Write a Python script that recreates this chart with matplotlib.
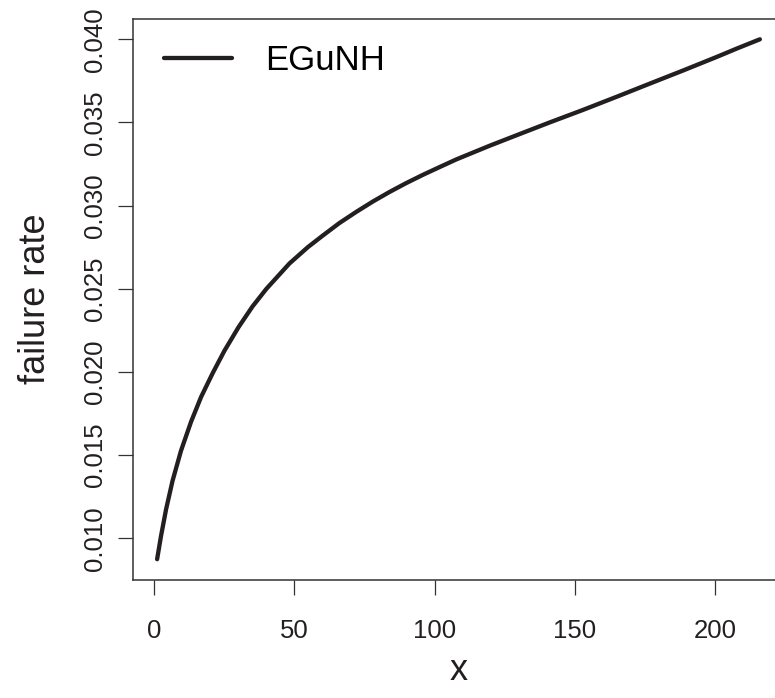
import matplotlib
matplotlib.use('Agg')
import matplotlib.pyplot as plt

# values
x_vals = [1, 2.4, 4.2, 6.5, 9.5, 13.1, 16.7, 20.8, 25.0, 30.0, 35.0, 40.0,
          48.2, 54.75, 60.1, 66.0, 72.0, 78.0, 83.9, 89.8, 95.8, 101.8,
          107.75, 119.6, 129.2, 141.0, 153.0, 165.0, 176.8, 188.7, 200.6,
          208.0, 216]
rate = [0.00874, 0.01014, 0.01174, 0.01345, 0.01525, 0.01700, 0.01850, 0.01992,
        0.02127, 0.02268, 0.02393, 0.02500, 0.02652, 0.02750, 0.02820, 0.02895,
        0.02962, 0.03025, 0.03082, 0.03135, 0.03185, 0.03232, 0.03278, 0.03360,
        0.03423, 0.03500, 0.03576, 0.03655, 0.03734, 0.03813, 0.03894, 0.03946,
        0.0400]
series_name = "EGuNH"
x_ticks = [0, 50, 100, 150, 200]
y_ticks = [0.010, 0.015, 0.020, 0.025, 0.030, 0.035, 0.040]

plt.rcParams['font.family'] = ['Liberation Sans', 'DejaVu Sans']
W, H = 775, 698
fig = plt.figure(figsize=(W / 100, H / 100), dpi=100)

# plot box in pixels (right edge runs off the image, as in the reference)
left, right, top, bottom = 133, 784, 18.5, 580
ax = fig.add_axes([left / W, 1 - bottom / H, (right - left) / W, (bottom - top) / H])

ink = '#231f20'
ax.plot(x_vals, rate, color=ink, lw=3.1, solid_capstyle='round',
        solid_joinstyle='round', label=series_name)

# R-style 4% padding
xr = max(x_vals) - min(x_vals)
yr = max(rate) - min(rate)
ax.set_xlim(min(x_vals) - 0.04 * xr, max(x_vals) + 0.04 * xr)
ax.set_ylim(min(rate) - 0.04 * yr, max(rate) + 0.04 * yr)

ax.set_xticks(x_ticks)
ax.set_yticks(y_ticks)
ax.set_yticklabels([f"{v:.3f}" for v in y_ticks])
ax.tick_params(length=11, width=0.9, color='#333333', labelsize=18.5,
               labelcolor=ink, direction='out')
ax.tick_params(axis='x', pad=17)
ax.tick_params(axis='y', pad=8, labelrotation=90)
for lab in ax.get_yticklabels():
    lab.set_va('center')
for sp in ax.spines.values():
    sp.set_linewidth(1.1)
    sp.set_color('#333333')

ax.set_xlabel('x', fontsize=26, color=ink, labelpad=7)
ax.set_ylabel('failure rate', fontsize=26, color=ink, labelpad=21)

ax.legend(loc='center left', bbox_to_anchor=((164 - left) / (right - left), 1 - (61 - top) / (bottom - top)),
          frameon=False, fontsize=25, handlelength=1.97, handletextpad=0.93,
          borderpad=0, borderaxespad=0)

fig.savefig('out.png', dpi=100)
